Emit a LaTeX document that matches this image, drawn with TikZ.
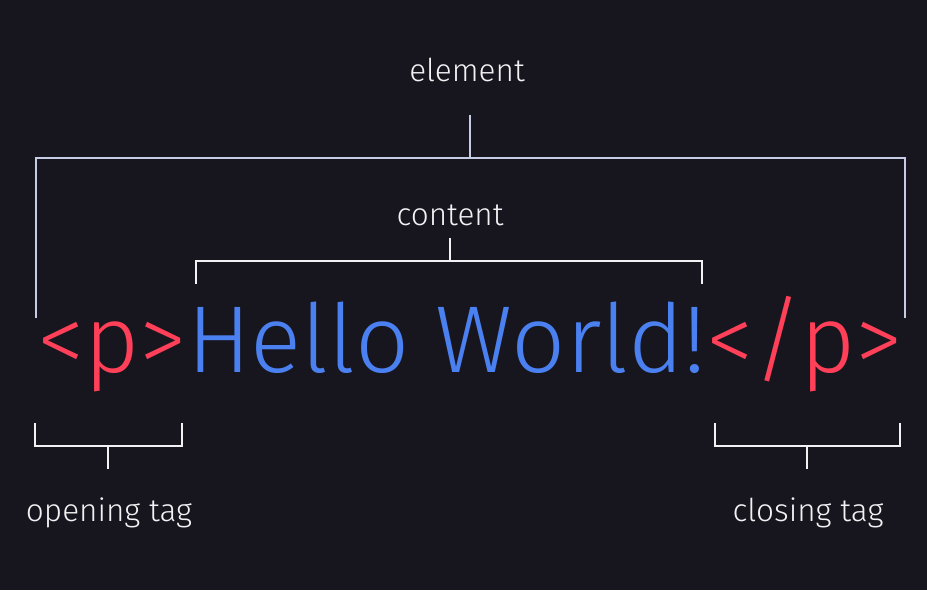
\documentclass[tikz,border=0pt]{standalone}
\usepackage{fontspec}
\IfFontExistsTF{Fira Sans Book}{\setmainfont{Fira Sans Book}}{\setmainfont{Fira Sans Light}}
\definecolor{bg}{HTML}{17161F}
\definecolor{tagred}{HTML}{FF4058}
\definecolor{textblue}{HTML}{4A80F0}
\definecolor{linewhite}{HTML}{F2F2F4}
\definecolor{linelav}{HTML}{C6CCE4}
\begin{document}
\begin{tikzpicture}[x=1pt,y=-1pt,
  label/.style={text=linewhite,font=\fontsize{31.5}{34}\selectfont,anchor=base,inner sep=0pt},
  bracket/.style={draw=linewhite,line width=2pt},
  outer/.style={draw=linelav,line width=2pt}]
\fill[bg] (0,0) rectangle (927,590);
\useasboundingbox (0,0) rectangle (927,590);

% main line of markup
\node[anchor=base,inner sep=0pt,font=\fontsize{95}{100}\selectfont] (code) at (470,372)
  {\textcolor{tagred}{<p>}\textcolor{textblue}{Hello World!}\textcolor{tagred}{</p>}};

% labels
\node[label] (element) at (467,81) {element};
\node[label] (content) at (450,225) {content};
\node[label] (opening) at (109,521) {opening tag};
\node[label] (closing) at (808,521) {closing tag};

% element bracket
\draw[outer] (36,318) -- (36,158) -- (905,158) -- (905,318);
\draw[outer] (470,158) -- (470,115);

% content bracket
\draw[bracket] (196,284) -- (196,261) -- (702,261) -- (702,284);
\draw[bracket] (450,261) -- (450,238);

% opening tag bracket
\draw[bracket] (35,423) -- (35,446) -- (182,446) -- (182,423);
\draw[bracket] (108,446) -- (108,469);

% closing tag bracket
\draw[bracket] (715,423) -- (715,446) -- (900,446) -- (900,423);
\draw[bracket] (807,446) -- (807,469);
\end{tikzpicture}
\end{document}
